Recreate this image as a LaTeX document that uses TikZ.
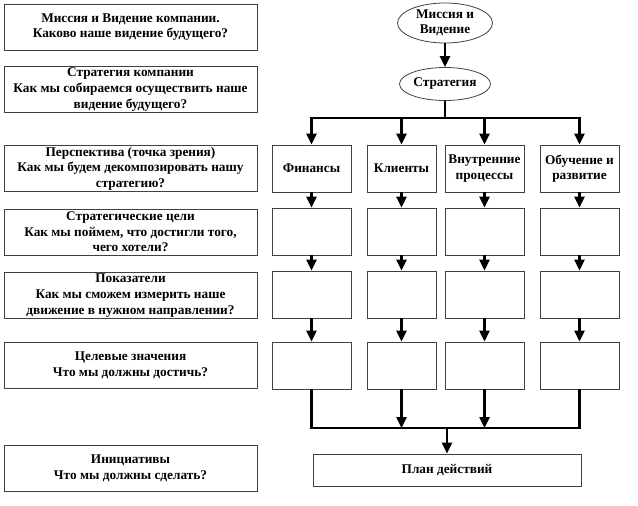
\documentclass[tikz,border=0pt]{standalone}
\usepackage{fontspec}
\setmainfont{Liberation Serif}
\usetikzlibrary{arrows.meta,shapes.geometric}

\begin{document}
\begin{tikzpicture}[x=1pt,y=-1pt,
    txt/.style={font=\bfseries\fontsize{13.3}{15.6}\selectfont, align=center, inner sep=1pt},
    qbox/.style={txt, draw=black!75, line width=0.8pt, minimum width=253pt, minimum height=46pt},
    cbox/.style={txt, draw=black!75, line width=0.8pt, minimum height=47pt},
    oval/.style={txt, draw=black!75, line width=0.8pt, ellipse, inner xsep=0pt, inner ysep=-3pt},
    link/.style={line width=2.4pt},
    arr/.style={link, -{Triangle[length=11pt,width=10pt]}}]

        \useasboundingbox (0,0) rectangle (638,506);

        % left column: questions
        \node[qbox] (q1) at (130.5,27) {Миссия и Видение компании.\\Каково наше видение будущего?};
        \node[qbox] (q2) at (130.5,89.5) {Стратегия компании\\Как мы собираемся осуществить наше\\видение будущего?};
        \node[qbox] (q3) at (130.5,168.5) {Перспектива (точка зрения)\\Как мы будем декомпозировать нашу\\стратегию?};
        \node[qbox] (q4) at (130.5,232) {Стратегические цели\\Как мы поймем, что достигли того,\\чего хотели?};
        \node[qbox] (q5) at (130.5,295.5) {Показатели\\Как мы сможем измерить наше\\движение в нужном направлении?};
        \node[qbox] (q6) at (130.5,365.5) {Целевые значения\\Что мы должны достичь?};
        \node[qbox] (q7) at (130.5,468.5) {Инициативы\\Что мы должны сделать?};

        % right part
        \node[oval, minimum width=95pt, minimum height=40pt] (mission) at (445,23) {Миссия и\\Видение};
        \node[oval, minimum width=91pt, minimum height=33pt] (strat) at (445,84) {Стратегия};
        \coordinate (bus) at (445,118);
        \coordinate (low) at (447,428);

        \foreach \n/\x/\w/\t in {1/311.5/79/Финансы, 2/401.5/69/Клиенты,
                3/484.5/79/{Внутренние\\процессы}, 4/579.5/79/{Обучение и\\развитие}} {
            \node[cbox, minimum width=\w pt] (p\n) at (\x,168.5) {\t};
            \node[cbox, minimum width=\w pt] (g\n) at (\x,231.5) {};
            \node[cbox, minimum width=\w pt] (m\n) at (\x,294.5) {};
            \node[cbox, minimum width=\w pt] (t\n) at (\x,365.5) {};
            \draw[arr] (p\n.north |- bus) -- (p\n.north);
            \draw[arr] (p\n.south) -- (g\n.north);
            \draw[arr] (g\n.south) -- (m\n.north);
            \draw[arr] (m\n.south) -- (t\n.north);
        }

        \node[cbox, minimum width=268pt, minimum height=32pt] (plan) at (447,470) {План действий};

        \draw[arr] (mission) -- (strat);
        \draw[link] (strat.south) -- (bus);
        \draw[link, line cap=rect] (p1.north |- bus) -- (p4.north |- bus);

        \draw[link, line join=miter] (t1.south) -- (t1.south |- low) -- (t4.south |- low) -- (t4.south);
        \draw[arr] (t2.south) -- (t2.south |- low);
        \draw[arr] (t3.south) -- (t3.south |- low);
        \draw[arr] (low) -- (plan.north);

    \end{tikzpicture}
\end{document}
